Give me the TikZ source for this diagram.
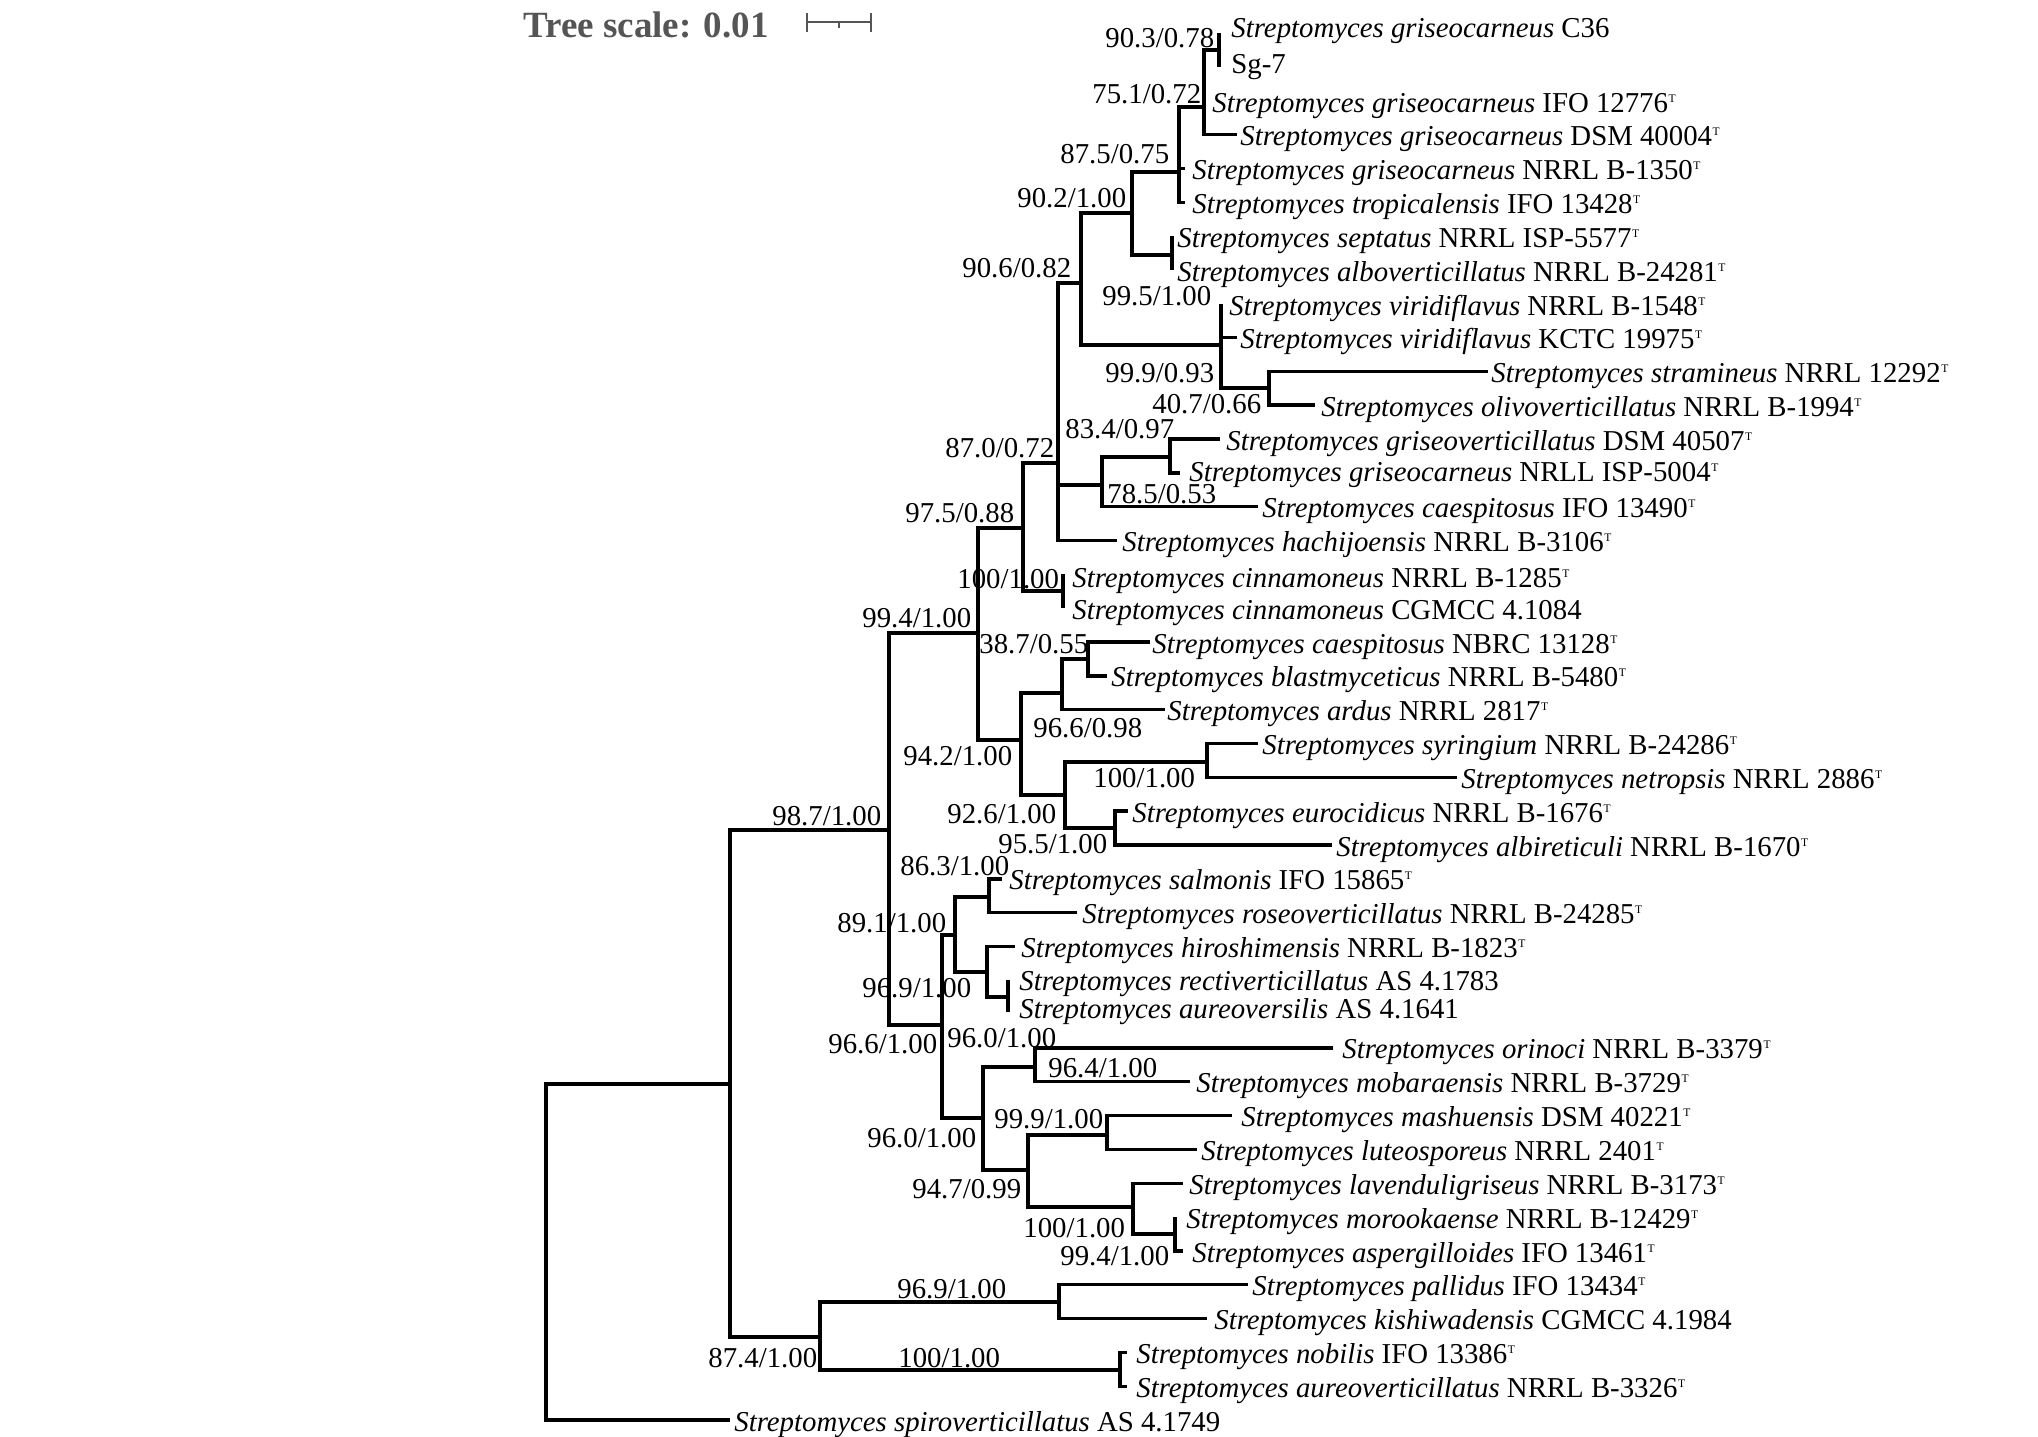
\documentclass[tikz,border=0pt]{standalone}
\usepackage{fontspec}
\setmainfont{Liberation Serif}
\definecolor{scalegray}{HTML}{555555}
\newcommand{\typT}{\kern0.3pt\raisebox{5.0pt}{\fontsize{5.8}{6}\selectfont T}}
\newcommand{\Sm}{\textit{Streptomyces}}
\begin{document}
\begin{tikzpicture}[x=0.5pt,y=-0.5pt,
  br/.style={line width=1.7pt, black},
  leaf/.style={anchor=base west, inner sep=0pt, font=\fontsize{14.4}{16}\selectfont},
  bs/.style={anchor=base west, inner sep=0pt, font=\fontsize{14.4}{16}\selectfont},
  scalebar/.style={line width=1.2pt, scalegray}]
\fill[white] (0,0) rectangle (2038,1436);
\useasboundingbox (0,0) rectangle (2038,1436);

% ---- scale
\node[anchor=base west, inner sep=0pt, font=\fontsize{18.5}{20}\selectfont\bfseries, text=scalegray] (title) at (523,37) {Tree scale: 0.01};
\coordinate (sbL) at (807,22);
\coordinate (sbR) at (871,22);
\coordinate (sbM) at (839,22);
\draw[scalebar] (sbL) -- (sbR);
\draw[scalebar] ([yshift=4.5pt]sbL) -- ([yshift=-5pt]sbL);
\draw[scalebar] ([yshift=4.5pt]sbR) -- ([yshift=-5pt]sbR);
\draw[scalebar] (sbM) -- ([yshift=-3pt]sbM);

% ---- internal nodes
\coordinate (root) at (546,1252);
\coordinate (R1) at (730,1084);
\coordinate (N874) at (820,1337);
\coordinate (N969b) at (1059,1302);
\coordinate (N100b) at (1120,1370);
\coordinate (N987) at (889,830);
\coordinate (N994) at (978,633);
\coordinate (N975) at (1023,528);
\coordinate (Ncin) at (1063,591);
\coordinate (N870) at (1058,463);
\coordinate (N906) at (1081,283);
\coordinate (N902) at (1132,213);
\coordinate (Nsep) at (1172,255);
\coordinate (N875) at (1179,172);
\coordinate (N751) at (1204,107);
\coordinate (N903) at (1219,50);
\coordinate (N999) at (1221,345);
\coordinate (N407) at (1269,388);
\coordinate (N834) at (1102,485);
\coordinate (Ngv) at (1170,457);
\coordinate (N942) at (1021,740);
\coordinate (P) at (1062,693);
\coordinate (Q) at (1088,659);
\coordinate (N926) at (1065,795);
\coordinate (S) at (1207,762);
\coordinate (E) at (1115,828);
\coordinate (N966) at (942,1025);
\coordinate (N891) at (955,935);
\coordinate (N863) at (989,897);
\coordinate (Nh) at (987,972);
\coordinate (R) at (1008,997);
\coordinate (M) at (983,1118);
\coordinate (O) at (1035,1067);
\coordinate (N947) at (1028,1170);
\coordinate (Mash) at (1107,1135);
\coordinate (L) at (1133,1207);
\coordinate (Mo) at (1175,1234);

% ---- tips
\coordinate (t1) at (1219,33.0);
\coordinate (t2) at (1219,66.8);
\coordinate (t3) at (1204,100.7);
\coordinate (t4) at (1237,134.5);
\coordinate (t5) at (1185,168.3);
\coordinate (t6) at (1185,202.2);
\coordinate (t7) at (1172,236.0);
\coordinate (t8) at (1172,269.8);
\coordinate (t9) at (1221,303.6);
\coordinate (t10) at (1237,337.5);
\coordinate (t11) at (1488,371.3);
\coordinate (t12) at (1315,405.1);
\coordinate (t13) at (1220,439.0);
\coordinate (t14) at (1180,472.8);
\coordinate (t15) at (1258,506.6);
\coordinate (t16) at (1117,540.5);
\coordinate (t17) at (1063,574.3);
\coordinate (t18) at (1063,608.1);
\coordinate (t19) at (1150,641.9);
\coordinate (t20) at (1107,675.8);
\coordinate (t21) at (1165,709.6);
\coordinate (t22) at (1258,743.4);
\coordinate (t23) at (1457,777.3);
\coordinate (t24) at (1128,811.1);
\coordinate (t25) at (1332,844.9);
\coordinate (t26) at (1002,878.8);
\coordinate (t27) at (1077,912.6);
\coordinate (t28) at (1015,946.4);
\coordinate (t29) at (1008,980.2);
\coordinate (t30) at (1008,1012.0);
\coordinate (t31) at (1333,1047.9);
\coordinate (t32) at (1190,1081.7);
\coordinate (t33) at (1232,1115.6);
\coordinate (t34) at (1197,1149.4);
\coordinate (t35) at (1183,1183.2);
\coordinate (t36) at (1175,1217.1);
\coordinate (t37) at (1183,1250.9);
\coordinate (t38) at (1248,1284.7);
\coordinate (t39) at (1207,1318.5);
\coordinate (t40) at (1127,1352.4);
\coordinate (t41) at (1127,1386.2);
\coordinate (t42) at (730,1420.0);

% ---- branches
\foreach \p/\c in {root/R1, root/t42, R1/N987, R1/N874,
  N874/N969b, N874/N100b, N969b/t38, N969b/t39, N100b/t40, N100b/t41,
  N987/N994, N987/N966, N994/N975, N994/N942, N975/N870, N975/Ncin,
  Ncin/t17, Ncin/t18, N870/N906, N870/N834, N870/t16,
  N906/N902, N906/N999, N902/N875, N902/Nsep, Nsep/t7, Nsep/t8,
  N875/N751, N875/t5, N875/t6, N751/N903, N751/t3, N751/t4,
  N903/t1, N903/t2, N999/t9, N999/t10, N999/N407, N407/t11, N407/t12,
  N834/Ngv, N834/t15, Ngv/t13, Ngv/t14,
  N942/P, N942/N926, P/Q, P/t21, Q/t19, Q/t20,
  N926/S, N926/E, S/t22, S/t23, E/t24, E/t25,
  N966/N891, N966/M, N891/N863, N891/Nh, N863/t26, N863/t27,
  Nh/t28, Nh/R, R/t29, R/t30,
  M/O, M/N947, O/t31, O/t32, N947/Mash, N947/L,
  Mash/t33, Mash/t34, L/t35, L/Mo, Mo/t36, Mo/t37}
  \draw[br] (\p) |- (\c);

% ---- leaf labels
\node[leaf] (l1) at (1231,37) {\Sm\ \textit{griseocarneus} C36};
\node[leaf] (l2) at (1231,73) {Sg-7};
\node[leaf] (l3) at (1212,112) {\Sm\ \textit{griseocarneus} IFO 12776\typT};
\node[leaf] (l4) at (1240,145.5) {\Sm\ \textit{griseocarneus} DSM 40004\typT};
\node[leaf] (l5) at (1192,179) {\Sm\ \textit{griseocarneus} NRRL B-1350\typT};
\node[leaf] (l6) at (1192,213) {\Sm\ \textit{tropicalensis} IFO 13428\typT};
\node[leaf] (l7) at (1177,247) {\Sm\ \textit{septatus} NRRL ISP-5577\typT};
\node[leaf] (l8) at (1177,281) {\Sm\ \textit{alboverticillatus} NRRL B-24281\typT};
\node[leaf] (l9) at (1229,315) {\Sm\ \textit{viridiflavus} NRRL B-1548\typT};
\node[leaf] (l10) at (1240,348.5) {\Sm\ \textit{viridiflavus} KCTC 19975\typT};
\node[leaf] (l11) at (1491,382.5) {\Sm\ \textit{stramineus} NRRL 12292\typT};
\node[leaf] (l12) at (1321,416) {\Sm\ \textit{olivoverticillatus} NRRL B-1994\typT};
\node[leaf] (l13) at (1226,450) {\Sm\ \textit{griseoverticillatus} DSM 40507\typT};
\node[leaf] (l14) at (1189,481) {\Sm\ \textit{griseocarneus} NRLL ISP-5004\typT};
\node[leaf] (l15) at (1262,517.6) {\Sm\ \textit{caespitosus} IFO 13490\typT};
\node[leaf] (l16) at (1122,551.5) {\Sm\ \textit{hachijoensis} NRRL B-3106\typT};
\node[leaf] (l17) at (1072,587) {\Sm\ \textit{cinnamoneus} NRRL B-1285\typT};
\node[leaf] (l18) at (1072,619) {\Sm\ \textit{cinnamoneus} CGMCC 4.1084};
\node[leaf] (l19) at (1152,653) {\Sm\ \textit{caespitosus} NBRC 13128\typT};
\node[leaf] (l20) at (1111,686.8) {\Sm\ \textit{blastmyceticus} NRRL B-5480\typT};
\node[leaf] (l21) at (1167,720.6) {\Sm\ \textit{ardus} NRRL 2817\typT};
\node[leaf] (l22) at (1262,754.4) {\Sm\ \textit{syringium} NRRL B-24286\typT};
\node[leaf] (l23) at (1461,788.3) {\Sm\ \textit{netropsis} NRRL 2886\typT};
\node[leaf] (l24) at (1132,822) {\Sm\ \textit{eurocidicus} NRRL B-1676\typT};
\node[leaf] (l25) at (1336,856) {\Sm\ \textit{albireticuli} NRRL B-1670\typT};
\node[leaf] (l26) at (1009,889.8) {\Sm\ \textit{salmonis} IFO 15865\typT};
\node[leaf] (l27) at (1082,923.6) {\Sm\ \textit{roseoverticillatus} NRRL B-24285\typT};
\node[leaf] (l28) at (1021,957.4) {\Sm\ \textit{hiroshimensis} NRRL B-1823\typT};
\node[leaf] (l29) at (1019,990) {\Sm\ \textit{rectiverticillatus} AS 4.1783};
\node[leaf] (l30) at (1019,1018) {\Sm\ \textit{aureoversilis} AS 4.1641};
\node[leaf] (l31) at (1342,1058.9) {\Sm\ \textit{orinoci} NRRL B-3379\typT};
\node[leaf] (l32) at (1196,1092.7) {\Sm\ \textit{mobaraensis} NRRL B-3729\typT};
\node[leaf] (l33) at (1241,1126.6) {\Sm\ \textit{mashuensis} DSM 40221\typT};
\node[leaf] (l34) at (1201,1160.4) {\Sm\ \textit{luteosporeus} NRRL 2401\typT};
\node[leaf] (l35) at (1189,1194.2) {\Sm\ \textit{lavenduligriseus} NRRL B-3173\typT};
\node[leaf] (l36) at (1186,1228) {\Sm\ \textit{morookaense} NRRL B-12429\typT};
\node[leaf] (l37) at (1192,1262) {\Sm\ \textit{aspergilloides} IFO 13461\typT};
\node[leaf] (l38) at (1252,1295.7) {\Sm\ \textit{pallidus} IFO 13434\typT};
\node[leaf] (l39) at (1214,1329.5) {\Sm\ \textit{kishiwadensis} CGMCC 4.1984};
\node[leaf] (l40) at (1136,1363) {\Sm\ \textit{nobilis} IFO 13386\typT};
\node[leaf] (l41) at (1136,1397.2) {\Sm\ \textit{aureoverticillatus} NRRL B-3326\typT};
\node[leaf] (l42) at (734,1431) {\Sm\ \textit{spiroverticillatus} AS 4.1749};

% ---- support values
\node[bs] (b1) at (1105,47) {90.3/0.78};
\node[bs] (b2) at (1092,103) {75.1/0.72};
\node[bs] (b3) at (1060,163) {87.5/0.75};
\node[bs] (b4) at (1017,207) {90.2/1.00};
\node[bs] (b5) at (962,277) {90.6/0.82};
\node[bs] (b6) at (1102,305) {99.5/1.00};
\node[bs] (b7) at (1105,382) {99.9/0.93};
\node[bs] (b8) at (1152,413) {40.7/0.66};
\node[bs] (b9) at (1065,438) {83.4/0.97};
\node[bs] (b10) at (945,457) {87.0/0.72};
\node[bs] (b11) at (1107,503) {78.5/0.53};
\node[bs] (b12) at (905,522) {97.5/0.88};
\node[bs] (b13) at (957,588) {100/1.00};
\node[bs] (b14) at (862,627) {99.4/1.00};
\node[bs] (b15) at (979,653) {38.7/0.55};
\node[bs] (b16) at (1033,737) {96.6/0.98};
\node[bs] (b17) at (903,765) {94.2/1.00};
\node[bs] (b18) at (1093,787) {100/1.00};
\node[bs] (b19) at (947,823) {92.6/1.00};
\node[bs] (b20) at (772,825) {98.7/1.00};
\node[bs] (b21) at (998,853) {95.5/1.00};
\node[bs] (b22) at (900,875) {86.3/1.00};
\node[bs] (b23) at (837,932) {89.1/1.00};
\node[bs] (b24) at (862,997) {96.9/1.00};
\node[bs] (b25) at (947,1047) {96.0/1.00};
\node[bs] (b26) at (828,1053) {96.6/1.00};
\node[bs] (b27) at (1048,1077) {96.4/1.00};
\node[bs] (b28) at (994,1128) {99.9/1.00};
\node[bs] (b29) at (867,1147) {96.0/1.00};
\node[bs] (b30) at (912,1198) {94.7/0.99};
\node[bs] (b31) at (1023,1237) {100/1.00};
\node[bs] (b32) at (1060,1265) {99.4/1.00};
\node[bs] (b33) at (897,1298) {96.9/1.00};
\node[bs] (b34) at (708,1367) {87.4/1.00};
\node[bs] (b35) at (898,1367) {100/1.00};
\end{tikzpicture}
\end{document}
